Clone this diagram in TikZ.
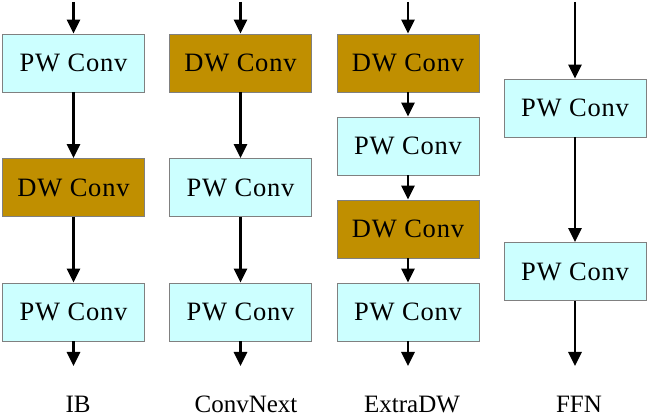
\documentclass[tikz,border=0pt]{standalone}
\usepackage{fontspec}
\setmainfont{Liberation Serif}
\newfontfamily\boxfont[LetterSpace=3]{Liberation Serif}
\usetikzlibrary{arrows.meta}
\definecolor{pwfill}{RGB}{204,255,255}
\definecolor{dwfill}{RGB}{192,143,0}
\definecolor{boxline}{RGB}{128,128,128}
\begin{document}
\begin{tikzpicture}[x=1pt,y=-1pt,
  blk/.style={draw=boxline,line width=0.8pt,minimum width=142pt,minimum height=58pt,inner sep=0pt,font=\boxfont\fontsize{26.5}{30}\selectfont},
  pw/.style={blk,fill=pwfill},
  dw/.style={blk,fill=dwfill},
  flow/.style={line width=2.6pt,-{Triangle[width=13pt,length=14pt]}},
  lab/.style={anchor=base,inner sep=0pt,font=\fontsize{25}{30}\selectfont}]
\useasboundingbox (0,0) rectangle (649,417);
% IB
\node[pw] (a1) at (73.5,63) {PW Conv};
\node[dw] (a2) at (73.5,187.5) {DW Conv};
\node[pw] (a3) at (73.5,312) {PW Conv};
\coordinate (a0) at (73.5,2);
\coordinate (a4) at (73.5,366);
\draw[flow] (a0) -- (a1);
\draw[flow] (a1) -- (a2);
\draw[flow] (a2) -- (a3);
\draw[flow] (a3) -- (a4);
\node[lab] (la) at (78,413) {IB};
% ConvNext
\node[dw] (b1) at (240.5,63) {DW Conv};
\node[pw] (b2) at (240.5,187.5) {PW Conv};
\node[pw] (b3) at (240.5,312) {PW Conv};
\coordinate (b0) at (240.5,2);
\coordinate (b4) at (240.5,366);
\draw[flow] (b0) -- (b1);
\draw[flow] (b1) -- (b2);
\draw[flow] (b2) -- (b3);
\draw[flow] (b3) -- (b4);
\node[lab] (lb) at (246,413) {ConvNext};
% ExtraDW
\node[dw] (c1) at (408,63) {DW Conv};
\node[pw] (c2) at (408,146) {PW Conv};
\node[dw] (c3) at (408,229) {DW Conv};
\node[pw] (c4) at (408,312) {PW Conv};
\coordinate (c0) at (408,2);
\coordinate (c5) at (408,366);
\draw[flow] (c0) -- (c1);
\draw[flow] (c1) -- (c2);
\draw[flow] (c2) -- (c3);
\draw[flow] (c3) -- (c4);
\draw[flow] (c4) -- (c5);
\node[lab] (lc) at (412,413) {ExtraDW};
% FFN
\node[pw] (d1) at (575,108) {PW Conv};
\node[pw] (d2) at (575,271.5) {PW Conv};
\coordinate (d0) at (575,2);
\coordinate (d3) at (575,366);
\draw[flow] (d0) -- (d1);
\draw[flow] (d1) -- (d2);
\draw[flow] (d2) -- (d3);
\node[lab] (ld) at (579,413) {FFN};
\end{tikzpicture}
\end{document}
